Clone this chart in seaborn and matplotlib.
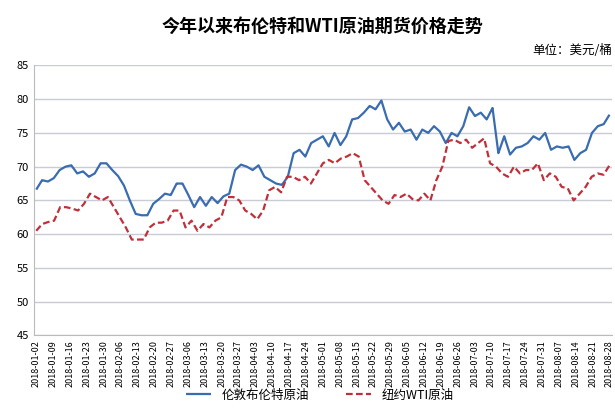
import matplotlib
matplotlib.use('Agg')
import matplotlib.pyplot as plt
import matplotlib.dates as mdates
import numpy as np
import pandas as pd
import seaborn as sns

plt.rcParams['font.family'] = ['Noto Sans CJK SC', 'DejaVu Sans']

# DATA (roughly two points per week)
brent = [66.6, 68.0, 67.8, 68.3, 69.5, 70.0, 70.2, 69.0, 69.3, 68.5, 69.0, 70.5,
         70.5, 69.5, 68.6, 67.2, 65.0, 63.0, 62.8, 62.8, 64.5, 65.2, 66.0, 65.8,
         67.5, 67.5, 65.8, 64.0, 65.5, 64.2, 65.5, 64.6, 65.6, 66.0, 69.5, 70.3,
         70.0, 69.5, 70.2, 68.5, 68.0, 67.5, 67.3, 68.5, 72.0, 72.5, 71.5, 73.5,
         74.0, 74.5, 73.0, 75.0, 73.2, 74.5, 77.0, 77.2, 78.0, 79.0, 78.5, 79.8,
         77.0, 75.5, 76.5, 75.2, 75.5, 74.0, 75.5, 75.0, 76.0, 75.2, 73.5, 75.0,
         74.5, 76.0, 78.8, 77.5, 78.0, 77.0, 78.7, 72.0, 74.5, 71.8, 72.8, 73.0,
         73.5, 74.5, 74.0, 75.0, 72.5, 73.0, 72.8, 73.0, 71.0, 72.0, 72.5, 75.0,
         76.0, 76.3, 77.7]
wti = [60.5, 61.5, 61.8, 62.0, 64.0, 64.0, 63.8, 63.5, 64.5, 66.0, 65.5, 65.0,
       65.5, 64.0, 62.5, 61.0, 59.2, 59.2, 59.2, 61.0, 61.7, 61.7, 62.0, 63.5,
       63.5, 61.0, 62.0, 60.5, 61.5, 61.0, 62.0, 62.5, 65.5, 65.5, 65.0, 63.5,
       63.0, 62.2, 63.5, 66.5, 67.0, 66.2, 68.5, 68.5, 68.0, 68.5, 67.5, 69.0,
       70.5, 71.0, 70.5, 71.2, 71.5, 72.0, 71.5, 68.0, 67.0, 66.0, 65.0, 64.5,
       65.8, 65.5, 66.0, 65.2, 65.0, 66.0, 65.0, 68.0, 70.0, 73.8, 74.0, 73.5,
       74.0, 72.8, 73.5, 74.2, 70.5, 70.0, 69.0, 68.5, 70.0, 69.0, 69.5, 69.5,
       70.5, 68.0, 69.0, 68.5, 67.0, 66.8, 65.0, 66.0, 67.0, 68.5, 69.0, 68.8,
       70.2]
start, end = '2018-01-02', '2018-08-28'

df = pd.concat([
    pd.DataFrame({'date': pd.date_range(start, end, periods=len(brent)), 'price': brent, 'series': '伦敦布伦特原油'}),
    pd.DataFrame({'date': pd.date_range(start, end, periods=len(wti)), 'price': wti, 'series': '纽约WTI原油'}),
])
ticks = pd.date_range(start, end, freq='7D')

fig, ax = plt.subplots(figsize=(6.15, 4.09), dpi=100)
sns.lineplot(data=df, x='date', y='price', hue='series', style='series',
             palette=['#3a6cb0', '#c0303a'], dashes=[(1, 0), (3, 1.5)],
             linewidth=1.6, ax=ax)

ax.set_ylim(45, 85)
ax.set_yticks(np.arange(45, 86, 5))
ax.set_xlim(pd.Timestamp(start) - pd.Timedelta(days=1), pd.Timestamp(end) + pd.Timedelta(days=1))
ax.set_xticks(ticks)
ax.xaxis.set_major_formatter(mdates.DateFormatter('%Y-%m-%d'))
ax.tick_params(axis='x', rotation=90, labelsize=6.5, length=0)
ax.tick_params(axis='y', labelsize=8, length=0)
ax.grid(axis='y', color='#c9cbd6', linewidth=1)
ax.set_axisbelow(True)
for s in ['top', 'right']:
    ax.spines[s].set_visible(False)
ax.spines['left'].set_color('#bbbbbb')
ax.spines['bottom'].set_color('#bbbbbb')
ax.set_xlabel('')
ax.set_ylabel('')
ax.set_title('今年以来布伦特和WTI原油期货价格走势', fontsize=13, fontweight='bold', pad=24)
ax.text(1.0, 1.03, '单位：美元/桶', transform=ax.transAxes, ha='right', va='bottom', fontsize=9)
handles, labels = ax.get_legend_handles_labels()
ax.get_legend().remove()
fig.legend(handles, labels, loc='lower center', bbox_to_anchor=(0.52, -0.01), ncol=2,
           frameon=False, fontsize=9, columnspacing=3)

fig.subplots_adjust(left=0.055, right=0.995, top=0.84, bottom=0.18)
fig.savefig('out.png', dpi=100)
